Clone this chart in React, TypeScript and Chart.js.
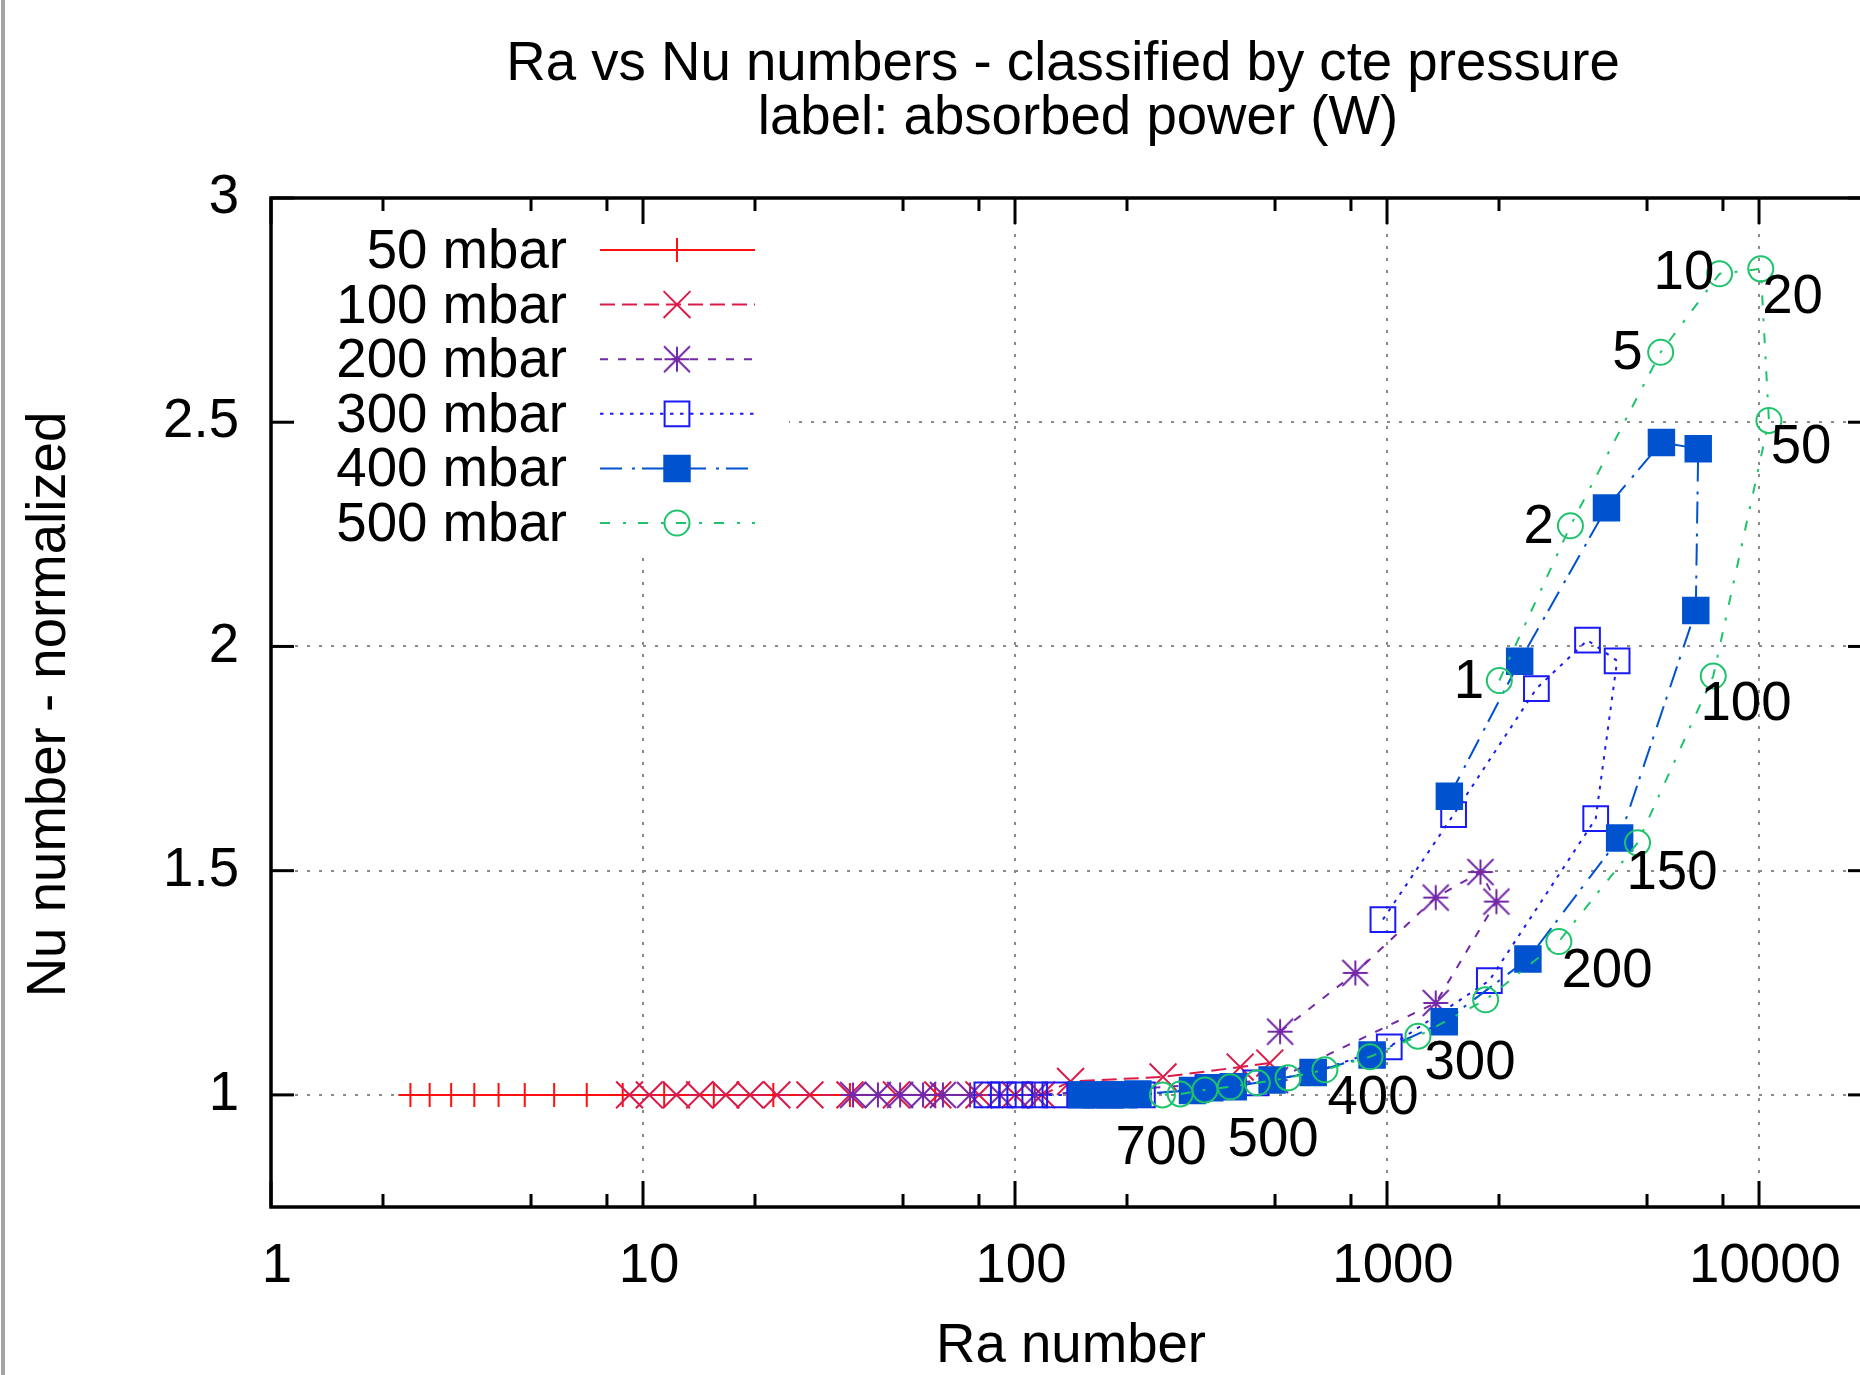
import React, { useEffect, useRef } from 'react';
import { Chart, registerables } from 'chart.js';
import { drawPoint } from 'chart.js/helpers';

Chart.register(...registerables);

// ---------------- data (Ra number, normalized Nu number) ----------------
const ra50 = [2.37, 2.67, 3.05, 3.52, 4.09, 4.81, 5.77, 7.06, 8.82, 11.4, 15.5, 22.4, 36, 61];
const nu50 = [1, 1, 1, 1, 1, 1, 1, 1, 1, 1, 1, 1, 1, 1];

const ra100 = [484, 403, 250, 141, 118, 100, 80, 62, 48, 36, 28.1, 22.9, 19.4, 16.7, 14.2, 12.3, 10.4, 9.2];
const nu100 = [1.071, 1.062, 1.04, 1.03, 1.0, 1.0, 1.0, 1.0, 1.0, 1.0, 1.0, 1.0, 1.0, 1.0, 1.0, 1.0, 1.0, 1.0];

const ra200 = [516, 822, 1352, 1783, 1968, 1352, 500, 113, 91, 75.7, 64, 56.6, 49.1, 42.8, 36.7];
const nu200 = [1.141, 1.272, 1.44, 1.497, 1.431, 1.205, 1.033, 1.0, 1.0, 1.0, 1.0, 1.0, 1.0, 1.0, 1.0];

const ra300 = [975, 1510, 2521, 3459, 4155, 3639, 1884, 1014, 633, 444, 330, 220, 180, 150, 128, 113, 103, 93, 84];
const nu300 = [1.391, 1.625, 1.906, 2.014, 1.968, 1.616, 1.255, 1.107, 1.05, 1.027, 1.016, 1.0, 1.0, 1.0, 1.0, 1.0, 1.0, 1.0, 1.0];

const ra400 = [1471, 2273, 3890, 5466, 6864, 6761, 4220, 2392, 1425, 912, 633, 491, 386, 334, 300, 214, 196, 180, 165, 151];
const nu400 = [1.666, 1.967, 2.309, 2.455, 2.441, 2.08, 1.573, 1.303, 1.163, 1.089, 1.05, 1.033, 1.018, 1.016, 1.01, 1.002, 1.0, 1.0, 1.0, 1.0];

const ra500 = [2004, 3112, 5441, 7834, 10108, 10632, 7534, 4715, 2897, 1841, 1211, 900, 681, 542, 448, 379, 324, 278, 249];
const nu500 = [1.924, 2.269, 2.656, 2.831, 2.842, 2.504, 1.934, 1.562, 1.342, 1.212, 1.131, 1.085, 1.056, 1.038, 1.027, 1.018, 1.011, 1.002, 1.0];

// absorbed power labels (W)
const labelText = ['1', '2', '5', '10', '20', '50', '100', '150', '200', '300', '400', '500', '700'];
const labelRa = [1661, 2555, 4431, 6285, 12307, 12970, 9229, 5836, 3904, 1671, 917, 494, 247];
const labelNu = [1.926, 2.27, 2.658, 2.837, 2.783, 2.449, 1.877, 1.5, 1.281, 1.075, 0.997, 0.904, 0.886];

// axes
const xTicks = [1, 10, 100, 1000, 10000];
const xMinorFactors = [2, 5, 8];
const yTicks = [1, 1.5, 2, 2.5, 3];
const X_MIN = 1;
const X_MAX = 20000;
const Y_MIN = 0.75;
const Y_MAX = 3;

const TITLE1 = 'Ra vs Nu numbers - classified by cte pressure';
const TITLE2 = 'label: absorbed power (W)';
const X_TITLE = 'Ra number';
const Y_TITLE = 'Nu number - normalized';

const FONT_FAMILY = '"Liberation Sans", Arial, Helvetica, sans-serif';
const FONT_SIZE = 54.6;
const FONT = `${FONT_SIZE}px ${FONT_FAMILY}`;

type Series = {
  label: string;
  ra: number[];
  nu: number[];
  color: string;
  dash: number[];
  style: string;
  radius: number;
  filled: boolean;
};

const SERIES: Series[] = [
  { label: '50 mbar', ra: ra50, nu: nu50, color: '#ff1010', dash: [], style: 'cross', radius: 12, filled: false },
  { label: '100 mbar', ra: ra100, nu: nu100, color: '#dc1a48', dash: [15, 7], style: 'crossRot', radius: 19, filled: false },
  { label: '200 mbar', ra: ra200, nu: nu200, color: '#7428a8', dash: [8, 10], style: 'asterisk', radius: 13, filled: false },
  { label: '300 mbar', ra: ra300, nu: nu300, color: '#1a1af5', dash: [3.5, 6.5], style: 'rect', radius: 17.5, filled: false },
  { label: '400 mbar', ra: ra400, nu: nu400, color: '#0052cf', dash: [22, 10, 3, 7], style: 'rect', radius: 18, filled: true },
  { label: '500 mbar', ra: ra500, nu: nu500, color: '#1ec46c', dash: [10, 13, 3, 12], style: 'circle', radius: 12.5, filled: false },
];

function makeAsterisk(color: string): HTMLCanvasElement {
  const c = document.createElement('canvas');
  c.width = 30;
  c.height = 30;
  const g = c.getContext('2d')!;
  g.strokeStyle = color;
  g.lineWidth = 2;
  g.beginPath();
  g.moveTo(15, 2.5); g.lineTo(15, 27.5);
  g.moveTo(2.5, 15); g.lineTo(27.5, 15);
  g.moveTo(2, 2); g.lineTo(28, 28);
  g.moveTo(28, 2); g.lineTo(2, 28);
  g.stroke();
  return c;
}

function seg(ctx: CanvasRenderingContext2D, x0: number, y0: number, x1: number, y1: number) {
  ctx.beginPath();
  ctx.moveTo(x0, y0);
  ctx.lineTo(x1, y1);
  ctx.stroke();
}

export default function App() {
  const ref = useRef<HTMLCanvasElement | null>(null);

  useEffect(() => {
    const canvas = ref.current;
    if (!canvas) return;
    const styles: any[] = SERIES.map((s) => (s.style === 'asterisk' ? makeAsterisk(s.color) : s.style));

    const decor = {
      id: 'gnuplotDecor',
      beforeDatasetsDraw(chart: any) {
        const { ctx, chartArea: a, scales } = chart;
        const xs = scales.x;
        const ys = scales.y;
        ctx.save();
        ctx.strokeStyle = '#8a8a8a';
        ctx.lineWidth = 2;
        ctx.setLineDash([3, 9]);
        for (const v of xTicks) {
          if (v <= X_MIN) continue;
          const px = Math.round(xs.getPixelForValue(v));
          seg(ctx, px, a.top, px, a.bottom);
        }
        for (const v of yTicks) {
          if (v >= Y_MAX) continue;
          const py = Math.round(ys.getPixelForValue(v));
          seg(ctx, a.left, py, a.right, py);
        }
        ctx.setLineDash([]);
        // key box (opaque)
        ctx.fillStyle = '#ffffff';
        ctx.fillRect(a.left, a.top, 789 - a.left, 550 - a.top);
        ctx.restore();
      },
      afterDatasetsDraw(chart: any) {
        const { ctx, chartArea: a, scales } = chart;
        const xs = scales.x;
        const ys = scales.y;
        ctx.save();
        ctx.setLineDash([]);
        ctx.strokeStyle = '#000';
        ctx.lineWidth = 3;
        // x ticks (mirrored)
        for (const v of xTicks) {
          const px = xs.getPixelForValue(v);
          seg(ctx, px, a.bottom, px, a.bottom - 26);
          seg(ctx, px, a.top, px, a.top + 26);
          for (const f of xMinorFactors) {
            const mv = v * f;
            if (mv >= X_MAX) continue;
            const mx = xs.getPixelForValue(mv);
            seg(ctx, mx, a.bottom, mx, a.bottom - 13);
            seg(ctx, mx, a.top, mx, a.top + 13);
          }
        }
        for (const v of yTicks) {
          const py = ys.getPixelForValue(v);
          seg(ctx, a.left, py, a.left + 23, py);
          seg(ctx, a.right, py, a.right - 23, py);
        }
        ctx.lineWidth = 3.5;
        ctx.strokeRect(a.left, a.top, a.right - a.left, a.bottom - a.top);

        // key
        ctx.font = FONT;
        ctx.fillStyle = '#000';
        ctx.textAlign = 'right';
        ctx.textBaseline = 'alphabetic';
        SERIES.forEach((s, i) => {
          const ly = 250 + i * 54.6;
          ctx.fillStyle = '#000';
          ctx.fillText(s.label, 567, ly + 18);
          ctx.strokeStyle = s.color;
          ctx.lineWidth = 2;
          ctx.setLineDash(s.dash);
          seg(ctx, 600, ly, 755, ly);
          ctx.setLineDash([]);
          ctx.fillStyle = s.filled ? s.color : 'rgba(0,0,0,0)';
          drawPoint(ctx, { pointStyle: styles[i], radius: s.radius, rotation: 0, borderWidth: 2 } as any, 677, ly);
        });

        // power labels
        ctx.fillStyle = '#000';
        ctx.textAlign = 'center';
        ctx.textBaseline = 'middle';
        labelText.forEach((t, i) => {
          ctx.fillText(t, xs.getPixelForValue(labelRa[i]), ys.getPixelForValue(labelNu[i]) + 3);
        });
        ctx.restore();
      },
      afterDraw(chart: any) {
        const { ctx, chartArea: a } = chart;
        ctx.save();
        ctx.font = FONT;
        ctx.fillStyle = '#000';
        ctx.textAlign = 'center';
        ctx.textBaseline = 'alphabetic';
        const cx = (a.left + a.right) / 2;
        ctx.fillText(TITLE1, cx - 8, 80);
        ctx.fillText(TITLE2, cx + 7, 134);
        ctx.fillText(X_TITLE, cx, 1362);
        ctx.translate(65, (a.top + a.bottom) / 2 + 2);
        ctx.rotate(-Math.PI / 2);
        ctx.fillText(Y_TITLE, 0, 0);
        ctx.restore();
        ctx.save();
        ctx.fillStyle = '#a3a3a3';
        ctx.fillRect(1, 0, 4, chart.height);
        ctx.restore();
      },
    };

    const tickFont = { family: FONT_FAMILY, size: FONT_SIZE };

    const chart = new Chart(canvas, {
      type: 'scatter',
      data: {
        datasets: SERIES.map((s, i) => ({
          label: s.label,
          data: s.ra.map((r, k) => ({ x: r, y: s.nu[k] })),
          showLine: true,
          borderColor: s.color,
          backgroundColor: s.filled ? s.color : 'rgba(0,0,0,0)',
          borderWidth: 2,
          borderDash: s.dash,
          pointStyle: styles[i],
          pointRadius: s.radius,
          pointHoverRadius: s.radius,
          pointBorderWidth: 2,
          pointBorderColor: s.color,
          pointBackgroundColor: s.filled ? s.color : 'rgba(0,0,0,0)',
          tension: 0,
          order: SERIES.length - 1 - i,
        })),
      },
      options: {
        animation: false,
        responsive: false,
        devicePixelRatio: 1,
        events: [],
        layout: { autoPadding: false, padding: { top: 198, left: 0, right: 0, bottom: 0 } },
        plugins: {
          legend: { display: false },
          title: { display: false },
          tooltip: { enabled: false },
        },
        scales: {
          x: {
            type: 'logarithmic',
            min: X_MIN,
            max: X_MAX,
            bounds: 'data',
            afterBuildTicks: (s: any) => {
              s.ticks = xTicks.map((v) => ({ value: v }));
            },
            afterFit: (s: any) => {
              s.height = 168;
              s.paddingLeft = 0;
              s.paddingRight = 0;
            },
            ticks: {
              callback: (v: any) => String(v),
              font: tickFont,
              color: '#000',
              padding: 27,
              labelOffset: 6,
              maxRotation: 0,
              minRotation: 0,
              autoSkip: false,
            },
            grid: { display: false, drawTicks: false },
            border: { display: false },
          },
          y: {
            type: 'linear',
            min: Y_MIN,
            max: Y_MAX,
            bounds: 'data',
            afterBuildTicks: (s: any) => {
              s.ticks = yTicks.map((v) => ({ value: v }));
            },
            afterFit: (s: any) => {
              s.width = 271;
              s.paddingTop = 0;
              s.paddingBottom = 0;
            },
            ticks: {
              callback: (v: any) => String(v),
              font: tickFont,
              color: '#000',
              padding: 32,
              autoSkip: false,
            },
            grid: { display: false, drawTicks: false },
            border: { display: false },
          },
        },
      } as any,
      plugins: [decor],
    });

    return () => chart.destroy();
  }, []);

  return (
    <div
      style={{
        position: 'fixed',
        left: 0,
        top: 0,
        width: 1860,
        height: 1375,
        overflow: 'hidden',
        background: '#ffffff',
      }}
    >
      <canvas ref={ref} width={1871} height={1375} style={{ display: 'block', width: 1871, height: 1375 }} />
    </div>
  );
}
